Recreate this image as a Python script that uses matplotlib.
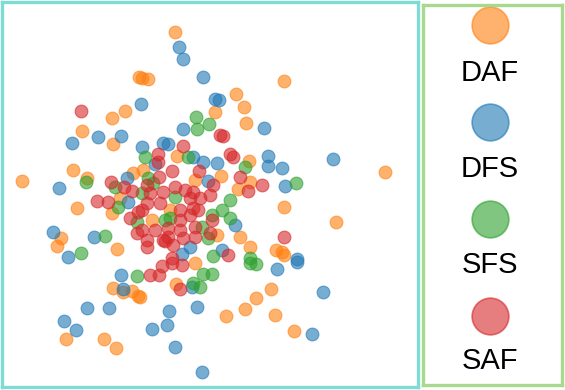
import matplotlib
matplotlib.use("Agg")
import numpy as np
from matplotlib import pyplot as plt

plt.rcParams['font.family'] = ['Liberation Sans', 'DejaVu Sans']

labels = ["DAF", "DFS", "SFS", "SAF"]
colors = ["tab:orange", "tab:blue", "tab:green", "tab:red"]

# embedding coordinates (y grows downward)
daf_x = [175, 142, 148, 139, 284, 236, 244, 215, 246, 112, 125, 82, 113, 22, 73, 87, 133, 120, 77, 112,
         61, 57, 117, 113, 123, 132, 138, 66, 104, 116, 195, 176, 140, 226, 245, 256, 271, 275, 294, 385,
         284, 336, 282, 284, 177, 249, 221, 250, 238, 143, 195, 170, 152, 217, 240, 250, 276]
daf_y = [32, 78, 79, 77, 81, 94, 107, 112, 123, 118, 111, 131, 144, 181, 170, 178, 173, 198, 208, 213,
         238, 246, 249, 288, 292, 291, 296, 339, 339, 348, 263, 284, 297, 316, 309, 298, 289, 315, 331, 172,
         207, 222, 252, 255, 156, 161, 176, 182, 189, 170, 180, 210, 220, 235, 237, 247, 250]

dfs_x = [179, 183, 203, 141, 215, 219, 264, 183, 72, 98, 121, 59, 127, 128, 53, 94, 68, 121, 123, 87,
         109, 64, 76, 192, 169, 197, 152, 167, 175, 202, 277, 297, 323, 312, 333, 282, 285, 297, 142, 163,
         168, 268, 268, 155, 193, 203, 217, 208, 235, 190, 182, 222]
dfs_y = [47, 59, 77, 104, 99, 100, 128, 129, 143, 137, 136, 188, 178, 202, 232, 237, 257, 275, 289, 308,
         308, 321, 330, 287, 311, 307, 329, 325, 347, 372, 269, 262, 292, 334, 159, 168, 186, 259, 147, 143,
         144, 156, 166, 164, 157, 162, 163, 181, 225, 247, 254, 250]

sfs_x = [196, 209, 197, 86, 115, 118, 105, 81, 137, 137, 203, 212, 193, 200, 250, 256, 296, 145, 188, 245,
         148, 142, 153, 175, 230, 222, 165, 170, 212, 230, 202, 208, 213, 250]
sfs_y = [117, 124, 129, 182, 187, 207, 236, 253, 222, 276, 274, 274, 283, 287, 263, 264, 183, 157, 157, 167,
         178, 193, 183, 197, 200, 210, 220, 218, 215, 218, 227, 238, 256, 258]

saf_x = [81, 111, 124, 132, 97, 108, 130, 138, 137, 150, 159, 162, 172, 182, 180, 284, 220, 223, 183, 230,
         233, 158, 158, 199, 172, 240, 262, 248, 159, 147, 150, 163, 175, 185, 213, 210, 193, 190, 200, 180,
         193, 198, 160, 147, 180, 190, 212, 142, 142, 155, 168, 168, 180, 183, 195, 210, 147, 147, 163, 165,
         173, 195, 228, 172]
saf_y = [111, 182, 187, 191, 201, 202, 218, 212, 233, 275, 275, 266, 263, 265, 289, 237, 135, 136, 146, 154,
         157, 154, 162, 171, 171, 177, 185, 191, 177, 185, 193, 192, 187, 190, 185, 195, 192, 198, 198, 210,
         208, 210, 203, 203, 220, 215, 220, 210, 230, 230, 228, 237, 230, 238, 227, 233, 240, 247, 240, 241,
         245, 237, 255, 258]

series = [(daf_x, daf_y), (dfs_x, dfs_y), (sfs_x, sfs_y), (saf_x, saf_y)]

fig = plt.figure(figsize=(5.65, 3.90), dpi=100)
W, H = 565.0, 390.0

# main scatter panel
ax = fig.add_axes([1.5 / W, 3.5 / H, 416 / W, 385 / H])
for (xs, ys), c in zip(series, colors):
    ax.scatter(xs, ys, s=85, color=c, alpha=0.6, linewidths=0.8)
ax.set_xlim(1.5, 417.5)
ax.set_ylim(386.5, 1.5)
ax.set_xticks([])
ax.set_yticks([])
for sp in ax.spines.values():
    sp.set_color("#7fdcd4")
    sp.set_linewidth(2.4)

# legend panel (coordinates in pixels from the top of the figure)
lax = fig.add_axes([422.5 / W, 5.5 / H, 139 / W, 380 / H])
lax.set_xlim(422.5, 561.5)
lax.set_ylim(384.5, 4.5)
for i, (lab, c) in enumerate(zip(labels, colors)):
    lax.scatter([489.5], [25 + i * 97], s=700, color=c, alpha=0.6, linewidths=1.2)
    lax.text(489.5, 73 + i * 96, lab, ha="center", va="center", fontsize=21)
lax.set_xticks([])
lax.set_yticks([])
for sp in lax.spines.values():
    sp.set_color("#a9d98e")
    sp.set_linewidth(2.4)

fig.savefig("out.png", dpi=100)
